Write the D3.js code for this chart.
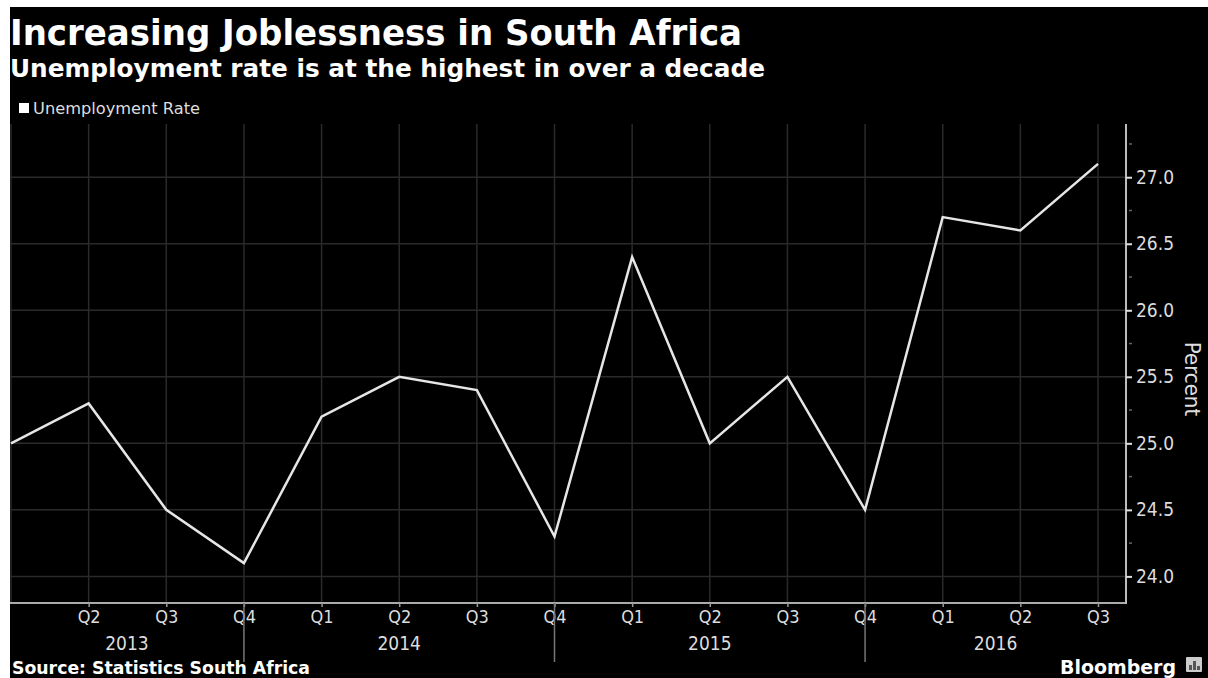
<!DOCTYPE html>
<html><head><meta charset="utf-8">
<script src="https://cdn.jsdelivr.net/npm/d3@7"></script>
<style>
html,body{margin:0;padding:0;background:#fff;}
svg{display:block;}
</style></head>
<body>
<svg id="c" width="1208" height="678"></svg>
<script>
const quarters = ["Q1","Q2","Q3","Q4","Q1","Q2","Q3","Q4","Q1","Q2","Q3","Q4","Q1","Q2","Q3"];
const years = [2013,2013,2013,2013,2014,2014,2014,2014,2015,2015,2015,2015,2016,2016,2016];
const rate = [25.0,25.3,24.5,24.1,25.2,25.5,25.4,24.3,26.4,25.0,25.5,24.5,26.7,26.6,27.1];
const yTicks = [24.0,24.5,25.0,25.5,26.0,26.5,27.0];
const minorTicks = [24.25,24.75,25.25,25.75,26.25,26.75,27.25];
const yearLabels = ["2013","2014","2015","2016"];

const svg = d3.select("#c");
const font = "'DejaVu Sans Condensed','DejaVu Sans',sans-serif";
svg.append("rect").attr("x",10).attr("y",7).attr("width",1198).attr("height",671).attr("fill","#000");

const L = 10, R = 1126, T = 124, B = 603;
const idx = d3.range(rate.length);
const x = d3.scaleLinear().domain([0, rate.length-1]).range([11, 1098]);
const y = d3.scaleLinear().domain([23.8, 27.4]).range([B, T]);

// grid
const g = svg.append("g");
g.selectAll(".hg").data(yTicks).join("line")
  .attr("x1",L).attr("x2",R).attr("y1",d=>y(d)).attr("y2",d=>y(d))
  .attr("stroke","#2a2a2a").attr("stroke-width",1.5);
g.selectAll(".vg").data(idx).join("line")
  .attr("x1",d=>x(d)).attr("x2",d=>x(d)).attr("y1",T).attr("y2",B)
  .attr("stroke","#2a2a2a").attr("stroke-width",1.5);

// axes lines
svg.append("line").attr("x1",L).attr("x2",R).attr("y1",B).attr("y2",B).attr("stroke","#aaa").attr("stroke-width",2);
svg.append("line").attr("x1",R).attr("x2",R).attr("y1",T).attr("y2",B+1).attr("stroke","#bbb").attr("stroke-width",2);

// right axis
const ya = d3.axisRight(y).tickValues(yTicks).tickFormat(d3.format(".1f")).tickSize(6).tickPadding(4);
const yg = svg.append("g").attr("transform",`translate(${R},0)`).call(ya);
yg.select(".domain").remove();
yg.selectAll("line").attr("stroke","#ddd").attr("stroke-width",2);
yg.selectAll("text").attr("fill","#ddd").attr("font-size",19).attr("font-family",font);
svg.selectAll(".minor").data(minorTicks).join("line")
  .attr("x1",R+3).attr("x2",R+6).attr("y1",d=>y(d)).attr("y2",d=>y(d))
  .attr("stroke","#666").attr("stroke-width",1.5);

// bottom axis (first quarter has no label)
const xa = d3.axisBottom(x).tickValues(idx.slice(1)).tickFormat(i=>quarters[i]).tickSize(4).tickPadding(3);
const xg = svg.append("g").attr("transform",`translate(0,${B})`).call(xa);
xg.select(".domain").remove();
xg.selectAll("line").attr("stroke","#999").attr("stroke-width",1.5);
xg.selectAll("text").attr("fill","#ddd").attr("font-size",18).attr("font-family",font);

// year separators at Q4
const seps = idx.filter(i=>quarters[i]==="Q4");
svg.selectAll(".sep").data(seps).join("line")
  .attr("x1",d=>x(d)).attr("x2",d=>x(d)).attr("y1",B).attr("y2",662)
  .attr("stroke","#777").attr("stroke-width",1.5);
const bounds = [L, ...seps.map(d=>x(d)), R];
svg.selectAll(".yl").data(yearLabels).join("text")
  .attr("x",(d,i)=>(bounds[i]+bounds[i+1])/2).attr("y",650)
  .attr("text-anchor","middle").attr("fill","#ddd").attr("font-size",19).attr("font-family",font)
  .text(d=>d);

// line
svg.append("path").datum(idx)
  .attr("d", d3.line().x(i=>x(i)).y(i=>y(rate[i])))
  .attr("fill","none").attr("stroke","#e6e6e6").attr("stroke-width",2.5).attr("stroke-linejoin","miter");

// Percent label
svg.append("text").attr("transform",`translate(1185,379) rotate(90)`)
  .attr("text-anchor","middle").attr("fill","#ddd").attr("font-size",22).attr("font-family",font)
  .text("Percent");

// titles
svg.append("text").attr("x",10).attr("y",45).attr("fill","#fff").attr("font-weight","bold")
  .attr("font-size",36).attr("font-family",font).attr("textLength",732).attr("lengthAdjust","spacingAndGlyphs")
  .text("Increasing Joblessness in South Africa");
svg.append("text").attr("x",10).attr("y",77).attr("fill","#fff").attr("font-weight","bold")
  .attr("font-size",25).attr("font-family",font).attr("textLength",755).attr("lengthAdjust","spacingAndGlyphs")
  .text("Unemployment rate is at the highest in over a decade");
// legend
svg.append("rect").attr("x",19).attr("y",103).attr("width",10).attr("height",10).attr("fill","#fff");
svg.append("text").attr("x",33).attr("y",114).attr("fill","#ddd").attr("font-size",15).attr("font-family",font)
  .attr("textLength",167).attr("lengthAdjust","spacingAndGlyphs").text("Unemployment Rate");
// footer
svg.append("text").attr("x",12).attr("y",674).attr("fill","#fff").attr("font-weight","bold")
  .attr("font-size",17).attr("font-family",font).attr("textLength",298).attr("lengthAdjust","spacingAndGlyphs")
  .text("Source: Statistics South Africa");
svg.append("text").attr("x",1060).attr("y",674).attr("fill","#fff").attr("font-weight","bold")
  .attr("font-size",20).attr("font-family","'DejaVu Sans',sans-serif").attr("textLength",116).attr("lengthAdjust","spacingAndGlyphs")
  .text("Bloomberg");
svg.append("rect").attr("x",1186).attr("y",657).attr("width",16).attr("height",15).attr("fill","#ccc").attr("rx",1);
svg.append("path").attr("d","M1189,670 L1189,665 L1192,665 L1192,670 M1193,670 L1193,661 L1196,661 L1196,670 M1197,670 L1197,666 L1200,666 L1200,670").attr("fill","#555");
</script>
</body></html>
